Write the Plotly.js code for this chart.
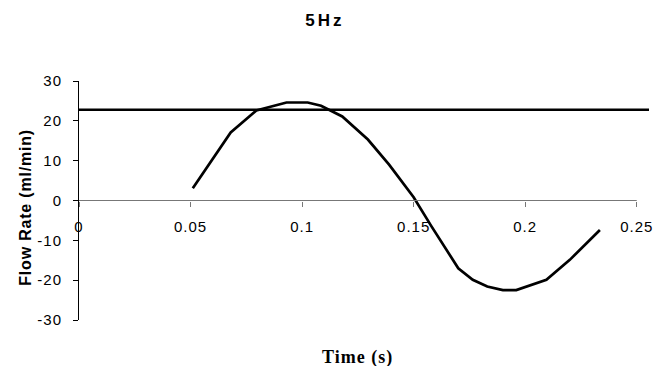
<!DOCTYPE html>
<html>
<head>
<meta charset="utf-8">
<script src="https://cdn.plot.ly/plotly-3.0.1.min.js"></script>
<style>
  html, body { margin: 0; padding: 0; background: #fff; }
  #chart { width: 667px; height: 366px; }
  .gtitle { letter-spacing: 3px; }
  .xtick text, .ytick text { letter-spacing: 1px; }
  .ann-x .annotation-text { letter-spacing: 1px; }
  .ann-y .annotation-text { letter-spacing: 0.8px; }
</style>
</head>
<body>
<div id="chart"></div>
<script>
// Data
const timeS = [0.051, 0.059, 0.068, 0.0795, 0.093, 0.1025, 0.1085, 0.118, 0.1295, 0.139, 0.150, 0.158, 0.170, 0.1765, 0.183, 0.190, 0.196, 0.2095, 0.220, 0.2335];
const flowRate = [3.1, 9.8, 17.1, 22.6, 24.6, 24.6, 23.8, 21.1, 15.3, 9.0, 0.8, -6.5, -17.0, -19.9, -21.6, -22.5, -22.5, -19.9, -14.9, -7.4];
const refTime = [0, 0.2555];
const refFlow = [22.8, 22.8];
const xTickVals = [0, 0.05, 0.1, 0.15, 0.2, 0.25];
const xTickText = ['0', '0.05', '0.1', '0.15', '0.2', '0.25'];
const yTickVals = [-30, -20, -10, 0, 10, 20, 30];
const yTickText = ['-30', '-20', '-10', '0', '10', '20', '30'];

const traces = [
  {x: refTime, y: refFlow, mode: 'lines', line: {color: '#000', width: 2.5}, hoverinfo: 'skip'},
  {x: timeS, y: flowRate, mode: 'lines', line: {color: '#000', width: 2.7}, hoverinfo: 'skip'}
];

const layout = {
  width: 667, height: 366,
  margin: {l: 79, r: 18, t: 81, b: 46},
  paper_bgcolor: '#fff', plot_bgcolor: '#fff',
  showlegend: false,
  font: {family: '"Liberation Sans", Arial, sans-serif', color: '#000', size: 15},
  title: {
    text: '<b>5Hz</b>',
    font: {family: '"Liberation Sans", Arial, sans-serif', size: 17, color: '#000'},
    x: 0.487, xanchor: 'center', xref: 'container',
    y: 0.945, yanchor: 'middle', yref: 'container'
  },
  xaxis: {
    range: [0, 0.2555],
    anchor: 'free', position: 0.5,
    showline: false, showgrid: false, zeroline: false,
    tickmode: 'array', tickvals: xTickVals, ticktext: xTickText,
    ticks: 'outside', ticklen: 5, tickcolor: '#777', tickwidth: 1,
    ticklabelstandoff: 7,
    tickfont: {size: 15, color: '#000'}
  },
  yaxis: {
    range: [-30, 30],
    showline: true, linecolor: '#000', linewidth: 1,
    showgrid: false, zeroline: false,
    tickmode: 'array', tickvals: yTickVals, ticktext: yTickText,
    ticks: 'outside', ticklen: 5, tickcolor: '#000', tickwidth: 1,
    ticklabelstandoff: 8,
    tickfont: {size: 15, color: '#000'}
  },
  shapes: [
    {type: 'line', xref: 'x', yref: 'y', x0: 0, x1: 0.25, y0: 0, y1: 0, line: {color: '#777', width: 1.2}}
  ],
  annotations: [
    {
      text: '<b>Flow Rate (ml/min)</b>', textangle: -90,
      xref: 'paper', yref: 'paper', x: (25 - 79) / 570, y: (320 - 207.5) / 239,
      xanchor: 'center', yanchor: 'middle', showarrow: false,
      font: {family: '"Liberation Sans", Arial, sans-serif', size: 16, color: '#000'}
    },
    {
      text: '<b>Time (s)</b>',
      xref: 'paper', yref: 'paper', x: (357.5 - 79) / 570, y: -(357 - 320) / 239,
      xanchor: 'center', yanchor: 'middle', showarrow: false,
      font: {family: '"Liberation Serif", "Times New Roman", serif', size: 18, color: '#000'}
    }
  ]
};

Plotly.newPlot('chart', traces, layout, {staticPlot: true, displayModeBar: false}).then(function () {
  const anns = document.querySelectorAll('.annotation');
  if (anns.length > 0) anns[0].classList.add('ann-y');
  if (anns.length > 1) anns[1].classList.add('ann-x');
});
</script>
</body>
</html>
